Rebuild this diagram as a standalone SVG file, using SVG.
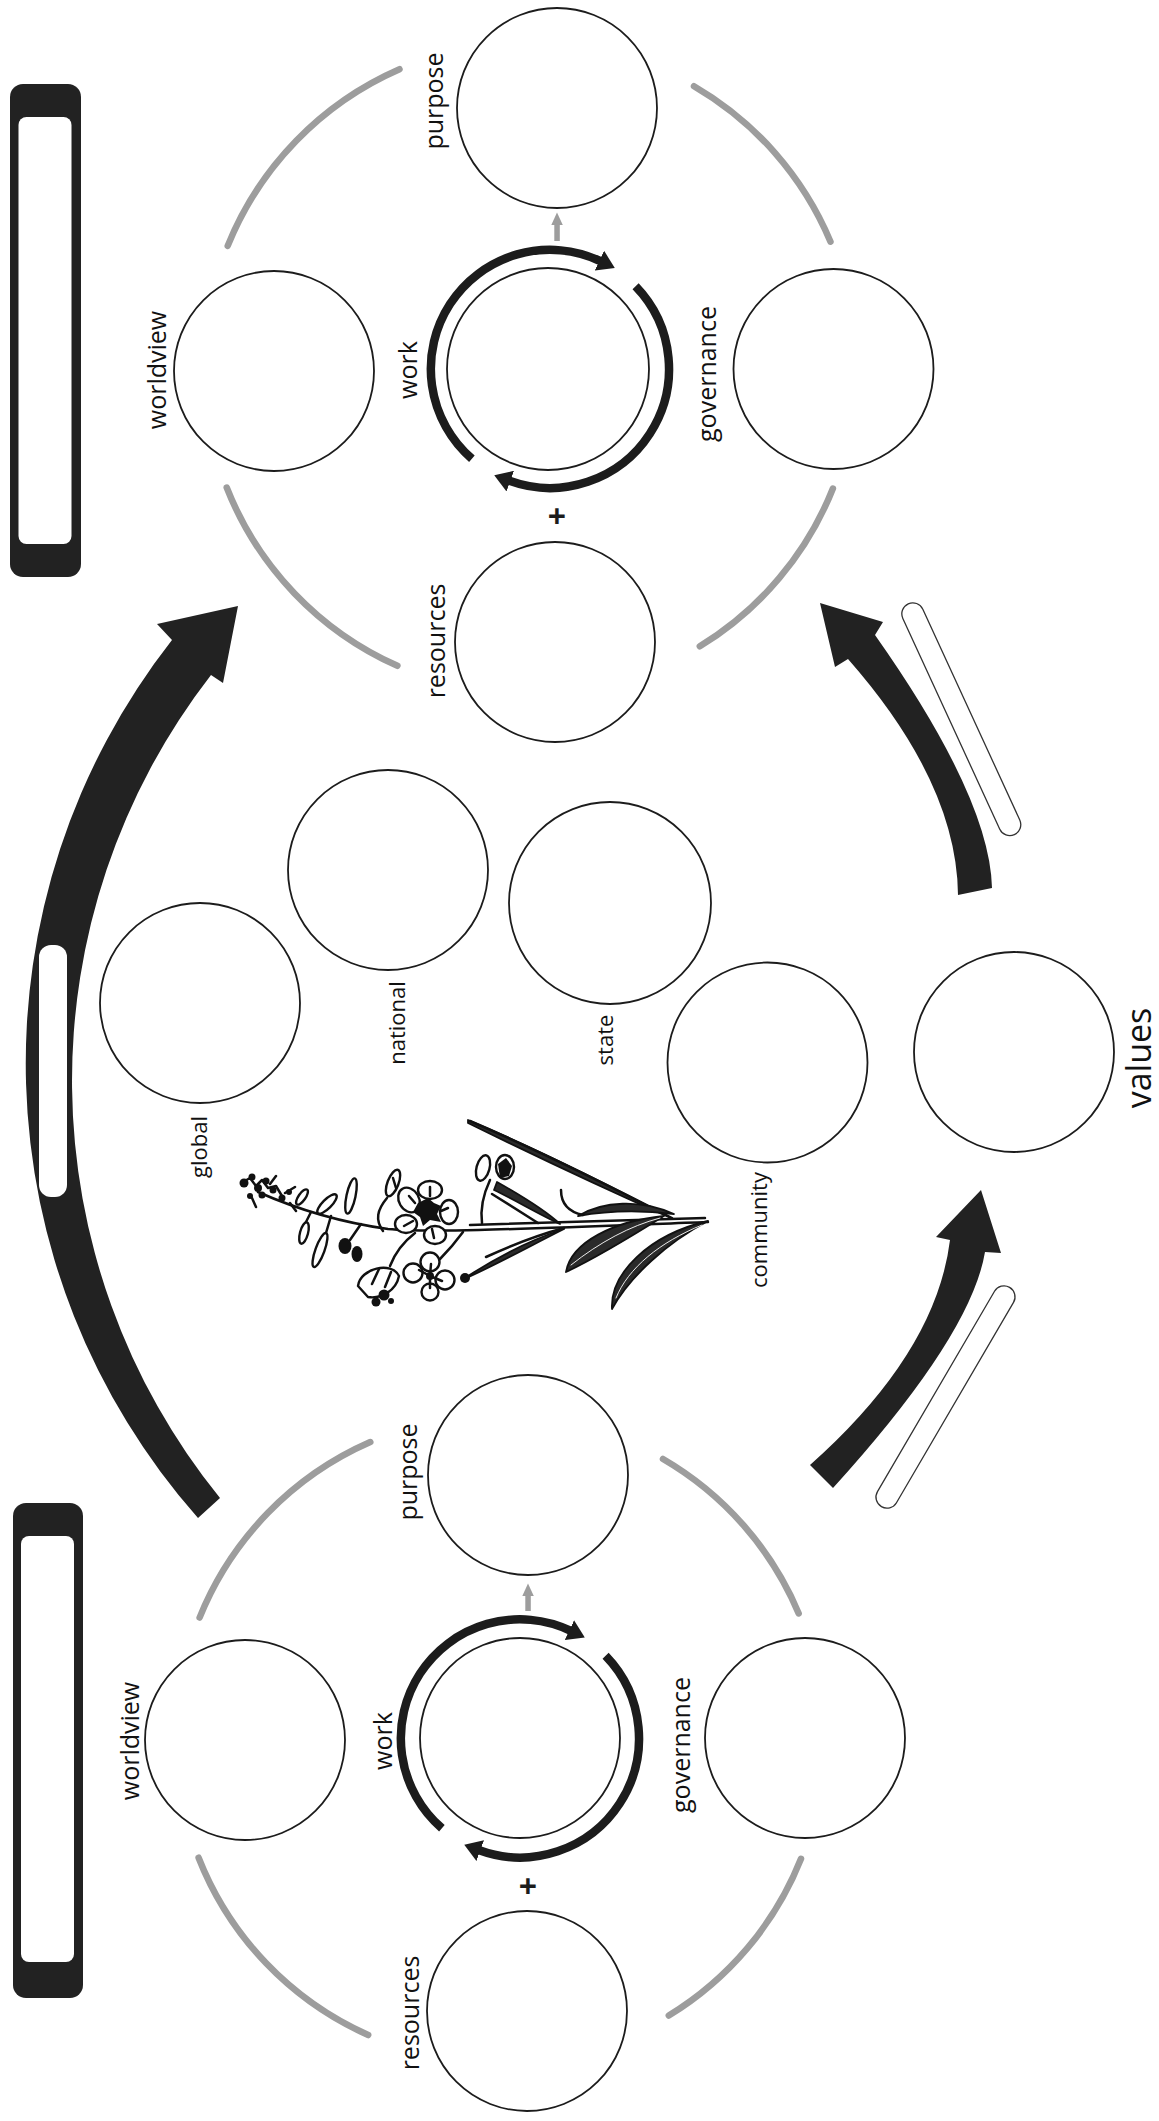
<svg xmlns="http://www.w3.org/2000/svg" width="1159" height="2121" viewBox="0 0 1159 2121">
  <style>
    .node { fill: #fff; stroke: #1c1c1c; stroke-width: 1.8; }
    .lbl { font-family: "Open Sans", "Liberation Sans", sans-serif; font-size: 25px; fill: #111; text-anchor: middle; }
    .lbl-s { font-size: 22px; }
    .lbl-l { font-size: 34px; }
    .plus { font-family: "Open Sans", "Liberation Sans", sans-serif; font-size: 32px; font-weight: 700; fill: #1c1c1c; text-anchor: middle; dominant-baseline: central; }
    .guide { fill: none; stroke: #9d9d9d; stroke-width: 6.5; stroke-linecap: round; }
    .ring { fill: none; stroke: #1c1c1c; stroke-width: 8.5; marker-end: url(#ringHead); }
    .solid { fill: #222; }
    .slot { fill: #fff; stroke: #333; stroke-width: 1.3; }
    .feed { fill: #9d9d9d; }
    .ink { fill: none; stroke: #111; stroke-width: 2.5; stroke-linecap: round; stroke-linejoin: round; }
    .petal { fill: #fff; stroke: #111; stroke-width: 2.4; stroke-linejoin: round; }
    .dark { fill: #111; stroke: none; }
    .hatch { fill: #2a2a2a; stroke: #111; stroke-width: 1.8; stroke-linejoin: round; }
    .vein { fill: none; stroke: #fff; stroke-width: 0.9; stroke-linecap: round; }
  </style>
  <defs>
    <marker id="ringHead" markerUnits="userSpaceOnUse" viewBox="0 0 18 22" markerWidth="18" markerHeight="22" refX="1" refY="11" orient="auto">
      <path d="M0,0 L17,11 L0,22 Z" fill="#1c1c1c"/>
    </marker>
  </defs>

  <rect width="1159" height="2121" fill="#fff"/>

  <!-- side bars -->
  <g id="bar-top">
    <rect class="solid" x="10" y="84" width="71" height="493" rx="13"/>
    <rect x="18.5" y="117" width="53" height="427" rx="8" fill="#fff"/>
  </g>
  <g id="bar-bottom">
    <rect class="solid" x="13" y="1503" width="70" height="495" rx="13"/>
    <rect x="21" y="1536" width="53" height="426" rx="8" fill="#fff"/>
  </g>

  <!-- connectors -->
  <g id="connectors">
    <!-- big sweep on the left -->
    <path class="solid" d="M198,1518 A686,686 0 0 1 172,640 L157,624 L238,606 L223,683 L211,675 A662,662 0 0 0 220,1498 Z"/>
    <rect x="39" y="945" width="28" height="252" rx="12" fill="#fff"/>

    <!-- right arrows with their slots -->
    <path class="solid" d="M992,888 Q990,798 875,635 L883,622 L820,603 L835,667 L848,659 Q957,783 958,895 Z"/>
    <rect class="slot" x="-127" y="-11" width="254" height="22" rx="11" transform="translate(961.3,719.2) rotate(65.3)"/>
    <path class="solid" d="M810,1465 Q936,1353 950,1240 L936,1237 L981,1190 L1001,1253 L985,1252 Q971,1336 833,1488 Z"/>
    <rect class="slot" x="-127" y="-11" width="254" height="22" rx="11" transform="translate(945.5,1397) rotate(120.3)"/>

    <!-- gray guide circle, upper cluster -->
    <path class="guide" d="M227.7,245.9 A326,326 0 0 1 399.5,69.2"/>
    <path class="guide" d="M694,86.2 A326,326 0 0 1 830.5,241.7"/>
    <path class="guide" d="M832.9,488.5 A326,326 0 0 1 699.8,646.3"/>
    <path class="guide" d="M397.4,665.8 A326,326 0 0 1 226.7,487.5"/>
    <!-- gray guide circle, lower cluster -->
    <path class="guide" d="M199.6,1617.6 A324,324 0 0 1 370.3,1442.1"/>
    <path class="guide" d="M663,1459 A324,324 0 0 1 798.7,1613.4"/>
    <path class="guide" d="M801,1858.8 A324,324 0 0 1 668.8,2015.6"/>
    <path class="guide" d="M368.2,2035 A324,324 0 0 1 198.6,1857.7"/>

    <!-- cycle arrows around work -->
    <path class="ring" d="M471.9,458.8 A119,119 0 0 1 600.3,261.1"/>
    <path class="ring" d="M635.6,286.3 A119,119 0 0 1 509.3,480.8"/>
    <path class="ring" d="M441.9,1828.3 A119,119 0 0 1 570.3,1630.6"/>
    <path class="ring" d="M605.6,1655.8 A119,119 0 0 1 479.3,1850.3"/>

    <!-- small feed arrows work -> purpose -->
    <rect class="feed" x="554.3" y="223" width="5.5" height="18"/>
    <path class="feed" d="M551.3,225 L562.8,225 L557,212.5 Z"/>
    <rect class="feed" x="525.3" y="1594" width="5.5" height="17"/>
    <path class="feed" d="M522.3,1596 L533.8,1596 L528,1583.5 Z"/>
  </g>

  <!-- upper cluster -->
  <g id="top-purpose">
    <circle class="node" cx="557" cy="108" r="100"/>
    <text class="lbl" transform="translate(443,101) rotate(-90)">purpose</text>
  </g>
  <g id="top-work">
    <circle class="node" cx="548" cy="369" r="101"/>
    <text class="lbl" transform="translate(417,370) rotate(-90)">work</text>
    <text class="plus" x="557" y="515">+</text>
  </g>
  <g id="top-worldview">
    <circle class="node" cx="274" cy="371" r="100"/>
    <text class="lbl" transform="translate(166,370) rotate(-90)">worldview</text>
  </g>
  <g id="top-governance">
    <circle class="node" cx="833.5" cy="369" r="100"/>
    <text class="lbl" transform="translate(716,374) rotate(-90)">governance</text>
  </g>
  <g id="top-resources">
    <circle class="node" cx="555" cy="642" r="100"/>
    <text class="lbl" transform="translate(445,641) rotate(-90)">resources</text>
  </g>

  <!-- middle scale circles -->
  <g id="global">
    <circle class="node" cx="200" cy="1003" r="100"/>
    <text class="lbl lbl-s" transform="translate(207,1147) rotate(-90)">global</text>
  </g>
  <g id="national">
    <circle class="node" cx="388" cy="870" r="100"/>
    <text class="lbl lbl-s" transform="translate(405,1023) rotate(-90)">national</text>
  </g>
  <g id="state">
    <circle class="node" cx="610" cy="903" r="101"/>
    <text class="lbl lbl-s" transform="translate(613,1040) rotate(-90)">state</text>
  </g>
  <g id="community">
    <circle class="node" cx="767.5" cy="1062.5" r="100"/>
    <text class="lbl lbl-s" transform="translate(767,1230) rotate(-90)">community</text>
  </g>
  <g id="values">
    <circle class="node" cx="1014" cy="1052" r="100"/>
    <text class="lbl lbl-l" transform="translate(1151,1058) rotate(-90)">values</text>
  </g>

  <!-- lower cluster -->
  <g id="bottom-purpose">
    <circle class="node" cx="528" cy="1475" r="100"/>
    <text class="lbl" transform="translate(417,1472) rotate(-90)">purpose</text>
  </g>
  <g id="bottom-work">
    <circle class="node" cx="520" cy="1738" r="100"/>
    <text class="lbl" transform="translate(392,1741) rotate(-90)">work</text>
    <text class="plus" x="528" y="1885">+</text>
  </g>
  <g id="bottom-worldview">
    <circle class="node" cx="245" cy="1740" r="100"/>
    <text class="lbl" transform="translate(139,1741) rotate(-90)">worldview</text>
  </g>
  <g id="bottom-governance">
    <circle class="node" cx="805" cy="1738" r="100"/>
    <text class="lbl" transform="translate(690,1745) rotate(-90)">governance</text>
  </g>
  <g id="bottom-resources">
    <circle class="node" cx="527" cy="2011" r="100"/>
    <text class="lbl" transform="translate(419,2013) rotate(-90)">resources</text>
  </g>

  <!-- fireweed sprig, ink drawing -->
  <g id="fireweed">
    <!-- long narrow leaf above the stem -->
    <path class="hatch" d="M468,1120 C535,1148 605,1183 673,1219 C603,1188 533,1155 468,1123 Z"/>
    <path class="ink" d="M470,1121 C540,1151 610,1186 672,1218" stroke-width="3"/>
    <!-- main stem -->
    <path class="ink" d="M258,1192 C292,1207 338,1222 388,1229 C430,1233 520,1229 708,1222" stroke-width="3.6"/>
    <path class="ink" d="M470,1225 L705,1218" stroke-width="1.6"/>
    <!-- leaves toward the base -->
    <path class="hatch" d="M578,1216 C603,1201 640,1199 674,1214 C640,1210 606,1211 578,1216 Z"/>
    <path class="ink" d="M561,1190 C561,1204 569,1212 583,1215" stroke-width="2.4"/>
    <path class="hatch" d="M566,1272 C571,1242 614,1221 664,1216 C632,1236 598,1257 566,1272 Z"/>
    <path class="vein" d="M571,1265 C600,1242 630,1226 660,1218"/>
    <path class="hatch" d="M612,1309 C610,1274 648,1235 708,1221 C668,1242 630,1276 612,1309 Z"/>
    <path class="vein" d="M616,1298 C628,1268 660,1242 702,1225"/>
    <!-- narrow leaf under the stem -->
    <path class="hatch" d="M462,1280 C495,1258 530,1240 564,1229 C530,1246 496,1265 462,1280 Z"/>
    <path class="ink" d="M486,1257 C512,1245 538,1235 564,1228" stroke-width="1.8"/>
    <circle class="dark" cx="465" cy="1278" r="5"/>
    <!-- flowering tip -->
    <path class="ink" d="M243,1182 L250,1178 L256,1186 L262,1180 L268,1188 L276,1186 L282,1196" stroke-width="4"/>
    <g class="dark">
      <circle cx="244" cy="1183" r="4.5"/>
      <circle cx="252" cy="1177" r="3.5"/>
      <circle cx="258" cy="1188" r="4"/>
      <circle cx="266" cy="1181" r="3.5"/>
      <circle cx="262" cy="1195" r="3.5"/>
      <circle cx="273" cy="1190" r="3.5"/>
      <circle cx="250" cy="1196" r="3"/>
      <circle cx="282" cy="1198" r="3.5"/>
      <circle cx="289" cy="1192" r="3"/>
      <ellipse cx="345" cy="1246" rx="6.5" ry="8"/>
      <ellipse cx="357" cy="1254" rx="5.5" ry="8"/>
    </g>
    <path class="ink" d="M252,1198 L256,1207 M270,1184 L276,1176 M285,1193 L295,1187 M290,1203 L296,1211"/>
    <!-- buds along the stem -->
    <ellipse class="petal" cx="302" cy="1197" rx="3.5" ry="9" transform="rotate(35 302 1197)"/>
    <ellipse class="petal" cx="327" cy="1204" rx="4.5" ry="13" transform="rotate(45 327 1204)"/>
    <ellipse class="petal" cx="351" cy="1196" rx="4.5" ry="18" transform="rotate(12 351 1196)"/>
    <ellipse class="petal" cx="393" cy="1183" rx="5.5" ry="14" transform="rotate(21 393 1183)"/>
    <path class="ink" d="M387,1198 C377,1210 375,1220 383,1231"/>
    <path class="ink" d="M393,1178 L396,1188" stroke-width="1.6"/>
    <ellipse class="petal" cx="320" cy="1250" rx="4.5" ry="18" transform="rotate(20 320 1250)"/>
    <ellipse class="petal" cx="304" cy="1233" rx="4" ry="11" transform="rotate(15 304 1233)"/>
    <path class="ink" d="M326,1233 L331,1216 M350,1240 L361,1224 M306,1222 L311,1212"/>
    <!-- open flower on the stem -->
    <g id="flower-open">
      <ellipse class="petal" cx="409" cy="1200" rx="10" ry="13" transform="rotate(-30 409 1200)"/>
      <ellipse class="petal" cx="430" cy="1190" rx="12" ry="9"/>
      <ellipse class="petal" cx="449" cy="1212" rx="9" ry="12"/>
      <ellipse class="petal" cx="435" cy="1235" rx="11" ry="9"/>
      <ellipse class="petal" cx="406" cy="1224" rx="11" ry="9"/>
      <path class="dark" d="M418,1203 L428,1198 L434,1203 L441,1206 L437,1214 L441,1222 L430,1220 L423,1226 L420,1217 L413,1212 Z"/>
      <path class="ink" d="M409,1196 L415,1203 M430,1187 L430,1196 M448,1208 L441,1211 M434,1238 L432,1229 M404,1226 L413,1221" stroke-width="1.5"/>
    </g>
    <!-- tubular flower above -->
    <g id="flower-tube">
      <ellipse class="petal" cx="483" cy="1168" rx="6.5" ry="13" transform="rotate(15 483 1168)"/>
      <ellipse class="petal" cx="505" cy="1167" rx="9" ry="12"/>
      <path class="dark" d="M498,1164 L506,1158 L512,1166 L509,1176 L500,1178 Z"/>
      <path class="ink" d="M490,1180 C483,1195 480,1208 482,1223" stroke-width="3"/>
      <path class="hatch" d="M497,1182 C520,1195 545,1210 560,1224 C540,1215 515,1200 494,1190 Z"/>
      <path class="ink" d="M492,1194 L538,1223" stroke-width="1.6"/>
    </g>
    <!-- flowers hanging below -->
    <g id="flower-low">
      <path class="ink" d="M440,1259 Q452,1247 463,1232"/>
      <circle class="petal" cx="413" cy="1273" r="9.5"/>
      <circle class="petal" cx="430" cy="1262" r="9.5"/>
      <circle class="petal" cx="445" cy="1280" r="9.5"/>
      <circle class="petal" cx="430" cy="1292" r="8.5"/>
      <path class="ink" d="M430,1276 L419,1270 M430,1276 L431,1264 M430,1276 L442,1281 M430,1276 L430,1288" stroke-width="1.5"/>
      <circle class="dark" cx="430" cy="1276" r="4"/>
      <path class="ink" d="M390,1266 C395,1253 402,1243 415,1233"/>
      <path class="petal" d="M358,1286 C360,1268 392,1261 399,1276 C396,1291 381,1299 368,1297 Z"/>
      <path class="ink" d="M372,1284 L379,1269 M385,1287 L391,1272" stroke-width="1.8"/>
      <circle class="dark" cx="384" cy="1295" r="5.5"/>
      <circle class="dark" cx="376" cy="1302" r="4.5"/>
      <circle class="dark" cx="391" cy="1301" r="3"/>
    </g>
  </g>
</svg>
